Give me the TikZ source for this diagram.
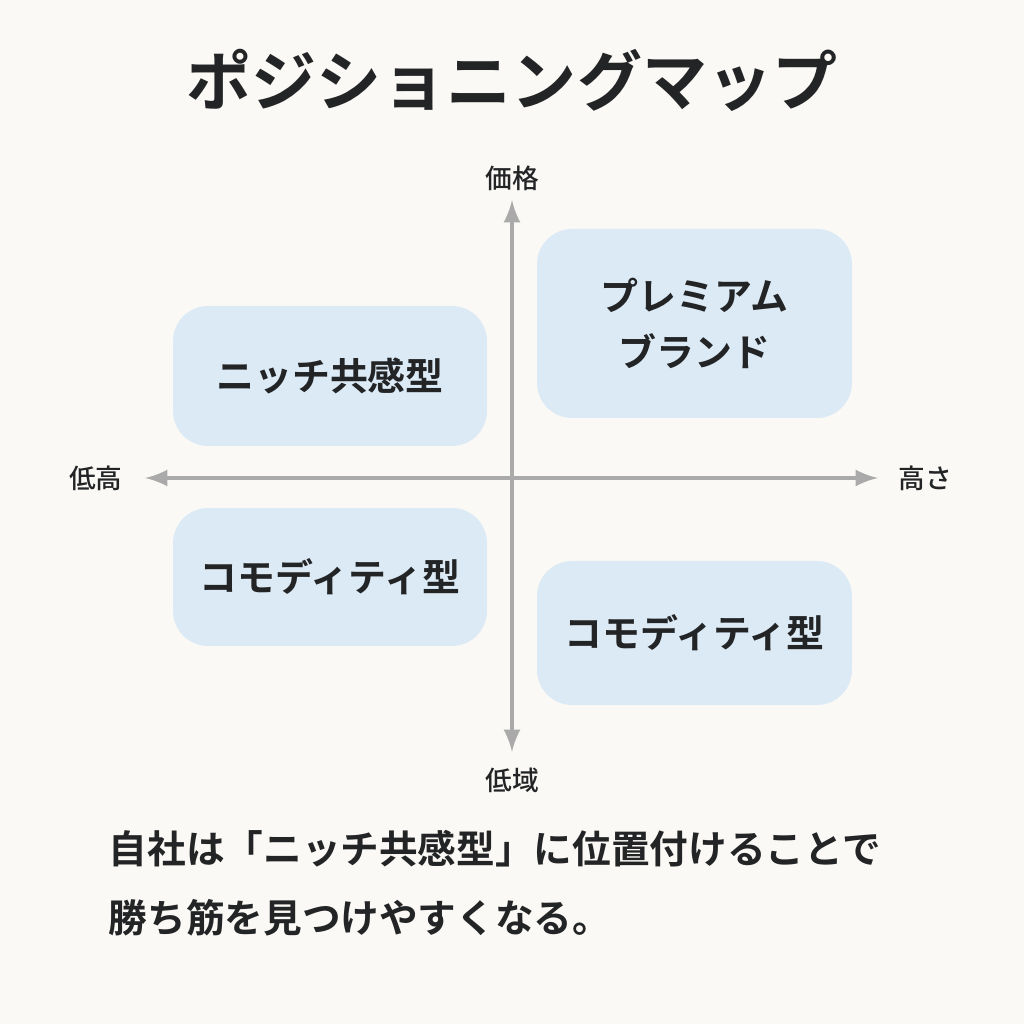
\documentclass[tikz,border=0pt]{standalone}
\usepackage{fontspec}
\setmainfont{Noto Sans CJK JP}
\newfontfamily\jpbold{Noto Sans CJK JP Bold}
\newfontfamily\jpmed{Noto Sans CJK JP Medium}
\definecolor{paper}{HTML}{FBF9F5}
\definecolor{cell}{HTML}{DCEAF5}
\definecolor{axisgray}{HTML}{AAAAAA}
\definecolor{ink}{HTML}{222426}
\begin{document}
\begin{tikzpicture}
      [cellbox/.style={
           rectangle, rounded corners=10pt,
           fill=cell, draw=none,
           text=ink, align=center,
           font=\jpbold\fontsize{10.8pt}{16pt}\selectfont
         },
       axislabel/.style={text=ink, font=\jpmed\fontsize{7.6pt}{9pt}\selectfont},
       axisline/.style={draw=axisgray, line width=1.2pt, -latex},
       ]
    \fill [paper] (0,0) rectangle (10.24,10.24);

    \node [text=ink, font=\jpbold\fontsize{18.5pt}{24pt}\selectfont] (title) at (5.12,9.44) {ポジショニングマップ};

    \coordinate (origin) at (5.12,5.46);
    \coordinate (west) at (1.45,5.46);
    \coordinate (east) at (8.78,5.46);
    \coordinate (north) at (5.12,8.24);
    \coordinate (south) at (5.12,2.72);

    \node [cellbox, minimum width=3.14cm, minimum height=1.40cm] (niche) at (3.30,6.48) {ニッチ共感型};
    \node [cellbox, minimum width=3.15cm, minimum height=1.89cm] (premium) at (6.945,7.005) {プレミアム\\ブランド};
    \node [cellbox, minimum width=3.14cm, minimum height=1.38cm] (commo1) at (3.30,4.47) {コモディティ型};
    \node [cellbox, minimum width=3.15cm, minimum height=1.44cm] (commo2) at (6.945,3.91) {コモディティ型};

    \path (origin) edge [axisline] (west)
          (origin) edge [axisline] (east)
          (origin) edge [axisline] (north)
          (origin) edge [axisline] (south);

    \node [axislabel] (ltop) at (5.12,8.46) {価格};
    \node [axislabel] (lbottom) at (5.12,2.44) {低域};
    \node [axislabel] (lleft) at (0.96,5.46) {低高};
    \node [axislabel] (lright) at (9.25,5.46) {高さ};

    \node [text=ink, anchor=north west, align=left, inner sep=0pt, font=\jpbold\fontsize{11pt}{19.5pt}\selectfont] (note) at (1.08,1.94) {自社は「ニッチ共感型」に位置付けることで\\勝ち筋を見つけやすくなる。};
  \end{tikzpicture}
\end{document}
